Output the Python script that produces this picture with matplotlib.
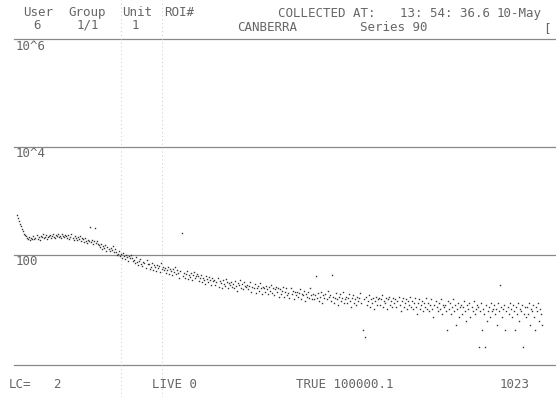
import numpy as np
import matplotlib
matplotlib.use("Agg")
import matplotlib.pyplot as plt
from matplotlib.lines import Line2D

W, H = 556, 397

# spectrum, one value every 2 channels (counts)
channels = np.arange(0, 1024, 2)
counts = [
    540, 480, 430, 380, 340, 300, 275, 250, 235, 222, 210, 200, 215, 190, 205, 198,
    222, 196, 208, 230, 201, 217, 189, 226, 212, 240, 205, 219, 232, 198, 214, 228,
    236, 210, 228, 245, 219, 203, 238, 222, 250, 214, 229, 207, 241, 226, 218, 233,
    224, 205, 231, 198, 216, 240, 209, 192, 221, 203, 187, 214, 196, 226, 182, 205,
    198, 176, 210, 185, 169, 193, 181, 330, 172, 188, 161, 179, 310, 166, 183, 158,
    152, 139, 163, 128, 147, 135, 156, 121, 141, 130, 118, 137, 125, 144, 113, 129,
    112, 98, 106, 120, 94, 103, 88, 109, 97, 85, 101, 92, 79, 96, 87, 99,
    88, 76, 81, 70, 92, 73, 66, 79, 84, 69, 62, 75, 71, 58, 80, 67,
    68, 55, 61, 72, 53, 64, 59, 50, 66, 57, 62, 48, 70, 56, 60, 52,
    58, 47, 53, 61, 45, 56, 50, 42, 55, 49, 59, 44, 52, 47, 38, 51,
    256, 41, 47, 38, 44, 50, 36, 43, 39, 46, 34, 42, 48, 37, 41, 45,
    40, 33, 37, 43, 31, 38, 35, 29, 41, 36, 32, 39, 34, 28, 37, 33,
    35, 28, 31, 37, 26, 33, 30, 24, 34, 29, 27, 36, 31, 25, 30, 28,
    32, 26, 29, 24, 33, 27, 22, 30, 28, 35, 25, 29, 23, 31, 27, 26,
    28, 23, 27, 31, 21, 26, 24, 29, 20, 25, 27, 22, 30, 24, 19, 26,
    25, 21, 27, 23, 19, 26, 22, 28, 20, 24, 18, 23, 26, 21, 25, 17,
    23, 19, 22, 26, 17, 21, 24, 18, 20, 16, 25, 19, 22, 15, 21, 18,
    21, 17, 20, 23, 15, 19, 18, 22, 14, 19, 17, 21, 16, 24, 18, 15,
    19, 15, 18, 40, 16, 20, 14, 17, 21, 13, 18, 16, 19, 15, 22, 17,
    18, 14, 42, 17, 13, 16, 20, 15, 12, 17, 19, 14, 16, 21, 13, 15,
    17, 13, 16, 19, 14, 11, 16, 18, 13, 15, 12, 17, 14, 16, 20, 13,
    4, 15, 3, 17, 12, 14, 18, 11, 15, 13, 16, 10, 14, 17, 12, 15,
    16, 12, 15, 18, 11, 14, 13, 16, 10, 15, 17, 12, 14, 11, 16, 13,
    15, 11, 14, 17, 12, 9, 14, 16, 11, 13, 15, 10, 14, 12, 17, 11,
    14, 10, 13, 16, 11, 8, 13, 15, 10, 12, 14, 9, 13, 11, 16, 10,
    13, 9, 12, 15, 10, 7, 12, 14, 11, 9, 13, 10, 15, 8, 12, 11,
    12, 9, 4, 14, 10, 13, 8, 11, 15, 9, 12, 5, 10, 13, 7, 11,
    12, 8, 11, 14, 9, 6, 12, 10, 13, 7, 11, 9, 14, 8, 10, 12,
    11, 2, 9, 13, 4, 10, 8, 2, 12, 6, 9, 11, 7, 13, 9, 10,
    12, 8, 10, 5, 13, 9, 28, 11, 7, 10, 12, 4, 9, 11, 8, 13,
    10, 7, 12, 9, 4, 11, 8, 13, 6, 10, 9, 12, 2, 8, 11, 7,
    11, 8, 13, 5, 10, 9, 12, 7, 4, 11, 9, 13, 6, 10, 8, 5,
]
decades = [1e6, 1e4, 1e2]
decade_labels = ["10^6", "10^4", "100"]

TXT = "#666666"
LINE = "#888888"

fig = plt.figure(figsize=(W / 100, H / 100), dpi=100)
fig.patch.set_facecolor("white")

# plot area: 1e6 line at y=39 px, bottom line at y=365 px
ax = fig.add_axes([14 / W, (H - 365) / H, (W - 14) / W, (365 - 39) / H])
ax.set_yscale("log")
ybot = 10 ** (-2 / 54)
ax.set_ylim(ybot, 1e6)
ax.set_xlim(-5.8, 1048.3)
for s in ax.spines.values():
    s.set_visible(False)
ax.set_xticks([])
ax.set_yticks([])
ax.minorticks_off()
ax.patch.set_alpha(0)

for d in decades + [ybot]:
    ax.axhline(d, color=LINE, lw=0.9, clip_on=False)

ax.plot(channels, counts, "s", ms=1.0, color="#333333", mec="none")

def ptext(x, y, s, **kw):
    fig.text(x / W, 1 - y / H, s, ha="left", va="baseline",
             family="DejaVu Sans Mono", fontsize=9, color=TXT, **kw)

# decade labels just under each line
for lab, yb in zip(decade_labels, [50, 157, 265]):
    ptext(16, yb, lab)

# header
ptext(23, 16, "User")
ptext(68, 16, "Group")
ptext(122, 16, "Unit")
ptext(164, 16, "ROI#")
ptext(278, 17, "COLLECTED AT:")
ptext(400, 17, "13: 54: 36.6")
ptext(497, 17, "10-May")
ptext(33, 29, "6")
ptext(77, 29, "1/1")
ptext(132, 29, "1")
ptext(237, 31, "CANBERRA")
ptext(360, 31, "Series 90")
ptext(543, 32, "[")

# footer
ptext(9, 388, "LC=")
ptext(53, 388, "2")
ptext(152, 388, "LIVE 0")
ptext(296, 388, "TRUE 100000.1")
ptext(500, 388, "1023")

# faint dotted separators from the printer
for xv in [121, 162]:
    fig.add_artist(Line2D([xv / W, xv / W], [0, 1], transform=fig.transFigure,
                          ls=(0, (1, 3)), color="#c8c8c8", lw=0.7))

fig.savefig("out.png", dpi=100)
